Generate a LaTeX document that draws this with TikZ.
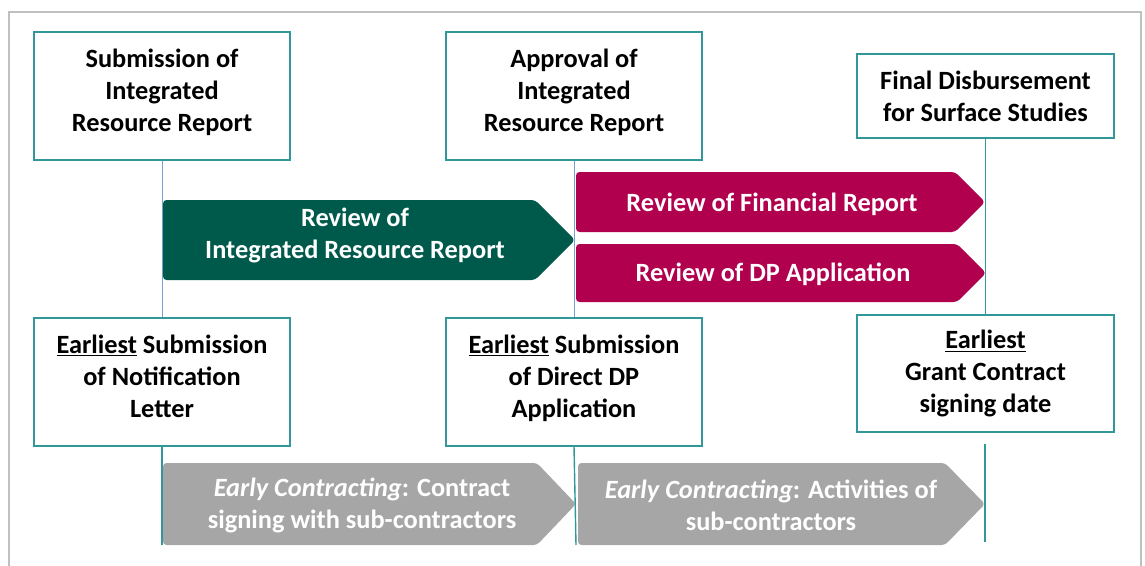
\documentclass[tikz,border=0pt]{standalone}
\usepackage{fontspec}
\setmainfont{Carlito}
\usetikzlibrary{positioning, calc}

\definecolor{boxteal}{RGB}{49,151,153}
\definecolor{linkblue}{RGB}{120,160,210}
\definecolor{revgreen}{RGB}{0,90,75}
\definecolor{revred}{RGB}{176,0,78}
\definecolor{contgray}{RGB}{166,166,166}
\definecolor{framegray}{RGB}{192,192,192}

\tikzset{
  milestone/.style={draw=boxteal, line width=0.8pt, fill=white, align=center, inner sep=0pt,
    font=\bfseries\fontsize{15}{18.2}\selectfont},
  lifted/.style={execute at end node={\rule[-7pt]{0pt}{0pt}}},
  phase/.style={text=white, align=center, font=\bfseries\fontsize{15}{18.2}\selectfont},
}
% colour, left x, tip start x, tip x, top y, bottom y
\newcommand{\phasearrow}[6]{%
  \fill[#1, rounded corners=2pt] (#2,#5) -- (#3,#5) -- (#4,{(#5+#6)/2}) -- (#3,#6) -- (#2,#6) -- cycle;}

\begin{document}
\begin{tikzpicture}[x=0.02cm, y=-0.02cm]
    \useasboundingbox (0,0) rectangle (1145,565);
    \draw[framegray, line width=1pt] (9,575) -- (9,12) -- (1141,12) -- (1141,575);

    % milestones
    \node[milestone, lifted, minimum width=5.12cm, minimum height=2.56cm] (subIRR) at (162,96) {Submission of\\Integrated\\Resource Report};
    \node[milestone, lifted, minimum width=5.12cm, minimum height=2.56cm] (appIRR) at (574,96) {Approval of\\Integrated\\Resource Report};
    \node[milestone, minimum width=5.14cm, minimum height=1.68cm] (finalDisb) at (985.5,96) {Final Disbursement\\for Surface Studies};
    \node[milestone, lifted, minimum width=5.12cm, minimum height=2.56cm] (earlyNotif) at (162,382) {\underline{Earliest} Submission\\of Notification\\Letter};
    \node[milestone, lifted, minimum width=5.12cm, minimum height=2.56cm] (earlyDP) at (574,382) {\underline{Earliest} Submission\\of Direct DP\\Application};
    \node[milestone, minimum width=5.14cm, minimum height=2.34cm] (earlyGrant) at (985.5,373.5) {\underline{Earliest}\\Grant Contract\\signing date};

    % time lines
    \draw[linkblue] (subIRR.south) -- (earlyNotif.north);
    \draw[linkblue] (appIRR.south) -- (earlyDP.north);
    \draw[boxteal, line width=0.8pt] (finalDisb.south) -- (earlyGrant.north);
    \coordinate (notifEnd) at (162,545);
    \coordinate (dpEnd) at (576,545);
    \coordinate (grantTop) at (985,444);
    \coordinate (grantEnd) at (985,542);
    \draw[boxteal, line width=0.8pt] (earlyNotif.south) -- (notifEnd);
    \draw[boxteal, line width=0.8pt] (earlyDP.south) -- (dpEnd);
    \draw[boxteal, line width=0.8pt] (grantTop) -- (grantEnd);

    % phases
    \phasearrow{revgreen}{163}{535}{575}{200}{280}
    \phasearrow{revred}{576}{955}{985}{172}{232}
    \phasearrow{revred}{576}{957}{986}{244}{302}
    \phasearrow{contgray}{163}{537}{576}{463}{545}
    \phasearrow{contgray}{578}{945}{985}{463}{545}
    \node[phase] (revIRR) at (355,235) {Review of\\Integrated Resource Report};
    \node[phase] (revFin) at (772,204) {Review of Financial Report};
    \node[phase] (revDP) at (773,274) {Review of DP Application};
    \node[phase] (contSign) at (362,505) {{\itshape Early Contracting}: Contract\\signing with sub-contractors};
    \node[phase] (contAct) at (771,505) {{\itshape Early Contracting}: Activities of\\sub-contractors};
\end{tikzpicture}
\end{document}
